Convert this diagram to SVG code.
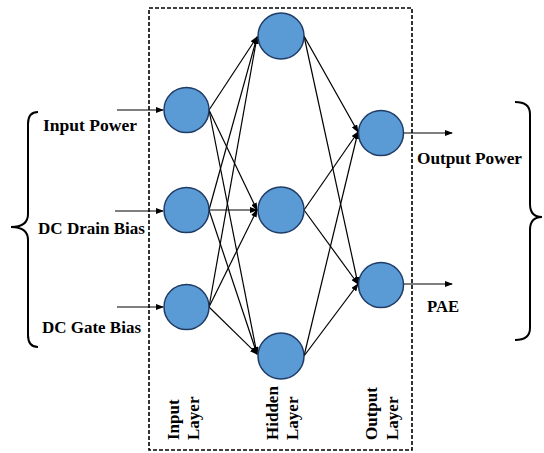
<svg xmlns="http://www.w3.org/2000/svg" width="544" height="453" viewBox="0 0 544 453">
<defs>
<marker id="ah" markerWidth="8" markerHeight="6" refX="7" refY="3" orient="auto" markerUnits="userSpaceOnUse">
<path d="M0,0 L8,3 L0,6 Z" fill="#000"/>
</marker>
<style>
.node{fill:#5b9bd5;stroke:#1f3c66;stroke-width:1.5}
.lbl{font-family:"Liberation Serif","Times New Roman",serif;font-weight:bold;font-size:17px;fill:#000}
.c{stroke:#000;stroke-width:1.2;fill:none;marker-end:url(#ah)}
.brace{stroke:#000;stroke-width:2;fill:none}
</style>
</defs>
<rect x="149" y="8" width="263" height="442" fill="none" stroke="#000" stroke-width="1.6" stroke-dasharray="4 2"/>
<g id="connectors">
<line class="c" x1="117" y1="110" x2="163" y2="110"/>
<line class="c" x1="115" y1="211" x2="163" y2="211"/>
<line class="c" x1="117" y1="307" x2="163" y2="307"/>
<line class="c" x1="209" y1="110" x2="257" y2="37"/>
<line class="c" x1="209" y1="110" x2="257" y2="210"/>
<line class="c" x1="209" y1="110" x2="257" y2="354"/>
<line class="c" x1="209" y1="210" x2="257" y2="37"/>
<line class="c" x1="209" y1="210" x2="257" y2="210"/>
<line class="c" x1="209" y1="210" x2="257" y2="354"/>
<line class="c" x1="209" y1="307" x2="257" y2="37"/>
<line class="c" x1="209" y1="307" x2="257" y2="210"/>
<line class="c" x1="209" y1="307" x2="257" y2="354"/>
<line class="c" x1="304" y1="36" x2="358" y2="132"/>
<line class="c" x1="304" y1="36" x2="358" y2="284"/>
<line class="c" x1="304" y1="210" x2="358" y2="132"/>
<line class="c" x1="304" y1="210" x2="358" y2="284"/>
<line class="c" x1="304" y1="356" x2="358" y2="132"/>
<line class="c" x1="304" y1="356" x2="358" y2="284"/>
<line class="c" x1="404" y1="133" x2="452" y2="133"/>
<line class="c" x1="404" y1="284" x2="452" y2="284"/>
</g>
<g id="in1"><circle class="node" cx="186.5" cy="110" r="22.5"/></g>
<g id="in2"><circle class="node" cx="186.5" cy="210" r="22.5"/></g>
<g id="in3"><circle class="node" cx="186.5" cy="307" r="22.5"/></g>
<g id="h1"><circle class="node" cx="281" cy="36" r="23"/></g>
<g id="h2"><circle class="node" cx="281" cy="210" r="23"/></g>
<g id="h3"><circle class="node" cx="281" cy="356" r="23"/></g>
<g id="o1"><circle class="node" cx="381" cy="133" r="22.5"/></g>
<g id="o2"><circle class="node" cx="381" cy="285" r="22.5"/></g>
<g id="labels">
<text class="lbl" x="43" y="131" textLength="94" lengthAdjust="spacingAndGlyphs">Input Power</text>
<text class="lbl" x="38" y="234" textLength="107" lengthAdjust="spacingAndGlyphs">DC Drain Bias</text>
<text class="lbl" x="42" y="333" textLength="99" lengthAdjust="spacingAndGlyphs">DC Gate Bias</text>
<text class="lbl" x="417" y="164" textLength="105" lengthAdjust="spacingAndGlyphs">Output Power</text>
<text class="lbl" x="427" y="312" textLength="32" lengthAdjust="spacingAndGlyphs">PAE</text>
<text class="lbl" transform="translate(179,440) rotate(-90)">Input</text>
<text class="lbl" transform="translate(199,440) rotate(-90)">Layer</text>
<text class="lbl" transform="translate(278,440) rotate(-90)">Hidden</text>
<text class="lbl" transform="translate(298,440) rotate(-90)">Layer</text>
<text class="lbl" transform="translate(377,440) rotate(-90)">Output</text>
<text class="lbl" transform="translate(398,440) rotate(-90)">Layer</text>
</g>
<g id="braces">
<path class="brace" d="M38 112 Q28 112 28 124 L28 214 Q28 227 11 227 Q28 227 28 240 L28 335 Q28 347 38 347"/>
<path class="brace" d="M515 102 Q530 102 530 114 L530 204 Q530 217 542 217 Q530 217 530 230 L530 328 Q530 340 515 340"/>
</g>
</svg>
